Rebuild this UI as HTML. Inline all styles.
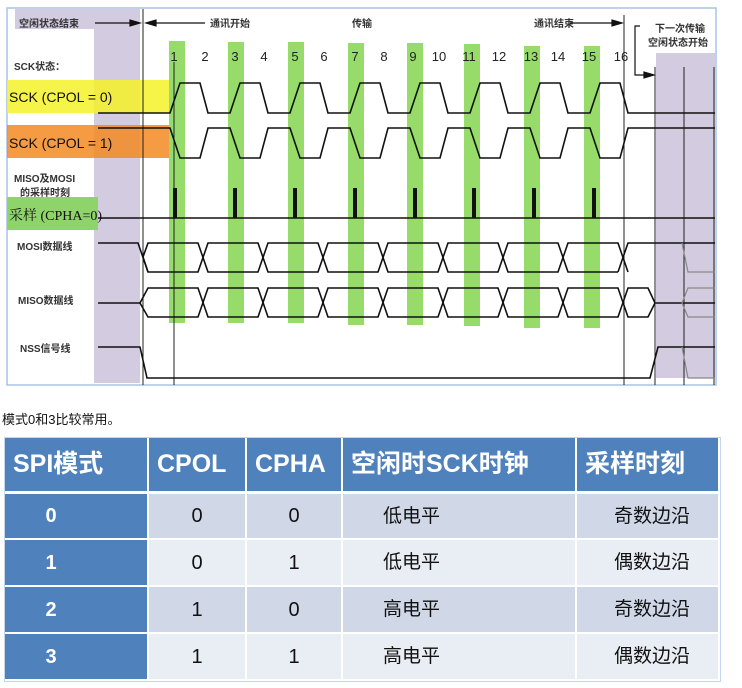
<!DOCTYPE html>
<html><head><meta charset="utf-8"><style>
body{margin:0;width:742px;height:688px;background:#fff;position:relative;overflow:hidden;font-family:"Liberation Sans","Noto Sans CJK SC",sans-serif}
.c{position:absolute;display:flex;align-items:center;box-sizing:border-box;line-height:1}
.h{background:#4f81bd;color:#fff;font-weight:bold;font-size:25px;padding-left:8px}
.a{background:#d0d8e8}.b{background:#e9edf4}
.n{background:#4f81bd;color:#fff;font-weight:bold;font-size:20px;justify-content:center;padding-right:50px}
.v{font-size:20px;justify-content:center;color:#111}
.t{font-size:19px;color:#111}
</style></head><body>
<svg width="742" height="390" style="position:absolute;left:0;top:0" font-family="Liberation Sans,Noto Sans CJK SC,sans-serif">
<rect x="7" y="8" width="709" height="377" fill="#fff" stroke="#a9c4e6" stroke-width="1.5"/>
<rect x="94" y="9" width="46" height="374" fill="#d3cbe0"/>
<rect x="15" y="9" width="79" height="20" fill="#d3cbe0"/>
<rect x="656" y="53" width="59" height="325" fill="#d3cbe0"/>
<rect x="7" y="80" width="163" height="33" fill="#f5f228" opacity="0.85"/>
<rect x="7" y="125" width="163" height="33" fill="#f28a22" opacity="0.85"/>
<rect x="7" y="197" width="91" height="33" fill="#8fd46a"/>
<g fill="#97dc6a">
<rect x="169" y="41" width="16" height="282"/><rect x="228" y="42" width="16" height="281"/>
<rect x="288" y="42" width="16" height="281"/><rect x="348" y="43" width="16" height="282"/>
<rect x="407" y="43" width="16" height="282"/><rect x="464" y="44" width="16" height="282"/>
<rect x="524" y="46" width="16" height="282"/><rect x="584" y="46" width="16" height="282"/>
</g>
<g font-size="13" fill="#222" text-anchor="middle">
<text x="174" y="61">1</text><text x="205" y="61">2</text><text x="235" y="61">3</text><text x="264" y="61">4</text>
<text x="295" y="61">5</text><text x="324" y="61">6</text><text x="355" y="61">7</text><text x="384" y="61">8</text>
<text x="413" y="61">9</text><text x="439" y="61">10</text><text x="469" y="61">11</text><text x="499" y="61">12</text>
<text x="531" y="61">13</text><text x="558" y="61">14</text><text x="589" y="61">15</text><text x="621" y="61">16</text>
</g>
<g font-size="10" fill="#333" font-weight="bold">
<text x="19" y="27">空闲状态结束</text>
<text x="210" y="27">通讯开始</text>
<text x="352" y="27">传输</text>
<text x="534" y="27">通讯结束</text>
<text x="655" y="32">下一次传输</text>
<text x="648" y="46">空闲状态开始</text>
<text x="14" y="70">SCK状态：</text>
<text x="14" y="182">MISO及MOSI</text>
<text x="20" y="196">的采样时刻</text>
<text x="17" y="250">MOSI数据线</text>
<text x="18" y="304">MISO数据线</text>
<text x="20" y="352">NSS信号线</text>
</g>
<g font-size="14" fill="#111">
<text x="9" y="102">SCK (CPOL = 0)</text>
<text x="9" y="148">SCK (CPOL = 1)</text>
<text x="9" y="220" font-family="Liberation Serif,Noto Serif CJK SC,serif">采样 (CPHA=0)</text>
</g>
<g stroke="#111" stroke-width="1.2" fill="#111">
<line x1="95" y1="23" x2="132" y2="23"/><polygon points="140,23 130,20 130,26"/>
<line x1="152" y1="23" x2="205" y2="23"/><polygon points="146,23 156,20 156,26"/>
<line x1="570" y1="23" x2="614" y2="23"/><polygon points="622,23 612,20 612,26"/>
<polyline points="640,26 635,26 635,75 645,75" fill="none"/><polygon points="654,75 644,72 644,78"/>
</g>
<g stroke="#222" stroke-width="1" fill="none">
<line x1="143" y1="9" x2="143" y2="385"/>
<line x1="174" y1="62" x2="174" y2="385"/>
<line x1="624" y1="15" x2="624" y2="385"/>
<line x1="655" y1="67" x2="655" y2="385"/>
<line x1="684" y1="67" x2="684" y2="385"/>
<line x1="714" y1="67" x2="714" y2="385"/>
</g>
<g stroke="#111" stroke-width="1.6" fill="none">
<polyline points="98,113 170,113 180,83 200,83 208,113 230,113 240,83 260,83 268,113 290,113 300,83 320,83 328,113 350,113 360,83 380,83 388,113 410,113 420,83 440,83 448,113 470,113 480,83 500,83 508,113 530,113 540,83 560,83 568,113 590,113 600,83 620,83 628,113 715,113"/>
<polyline points="98,128 170,128 180,158 200,158 208,128 230,128 240,158 260,158 268,128 290,128 300,158 320,158 328,128 350,128 360,158 380,158 388,128 410,128 420,158 440,158 448,128 470,128 480,158 500,158 508,128 530,128 540,158 560,158 568,128 590,128 600,158 620,158 628,128 715,128"/>
<line x1="98" y1="218" x2="715" y2="218"/>
<polyline points="98,243 138,243 148,272"/>
<polyline points="618,272 628,243 715,243"/>
<path d="M143,257 L148,243 L198,243 L208,272 L258,272 L268,243 L318,243 L328,272 L378,272 L388,243 L438,243 L448,272 L498,272 L508,243 L558,243 L568,272 L618,272"/>
<path d="M143,257 L148,272 L198,272 L208,243 L258,243 L268,272 L318,272 L328,243 L378,243 L388,272 L438,272 L448,243 L498,243 L508,272 L558,272 L568,243 L618,243 L628,272"/>
<polyline points="98,303 140,303"/>
<path d="M140,303 L148,288 L198,288 L208,317 L258,317 L268,288 L318,288 L328,317 L378,317 L388,288 L438,288 L448,317 L498,317 L508,288 L558,288 L568,317 L618,317 L628,288 L648,288 L655,303 L715,303"/>
<path d="M140,303 L148,317 L198,317 L208,288 L258,288 L268,317 L318,317 L328,288 L378,288 L388,317 L438,317 L448,288 L498,288 L508,317 L558,317 L568,288 L618,288 L628,317 L648,317 L655,303"/>
<polyline points="98,347 140,347 147,378 650,378 658,347 715,347"/>
</g>
<g stroke="#888" stroke-width="1.2" fill="none">
<polyline points="682,243 688,272 715,272"/>
<polyline points="682,303 688,288 715,288"/>
<polyline points="682,303 688,317 715,317"/>
<polyline points="682,347 688,378 715,378"/>
</g>
<g fill="#111">
<rect x="173" y="188" width="4" height="30"/><rect x="233" y="188" width="4" height="30"/>
<rect x="293" y="188" width="4" height="30"/><rect x="353" y="188" width="4" height="30"/>
<rect x="413" y="188" width="4" height="30"/><rect x="472" y="188" width="4" height="30"/>
<rect x="532" y="188" width="4" height="30"/><rect x="592" y="188" width="4" height="30"/>
</g>
</svg>
<div style="position:absolute;left:2px;top:409px;font-size:13px;color:#111">模式0和3比较常用。</div>
<div style="position:absolute;left:4px;top:437px;width:715px;height:243px;background:#fff;border:1px solid #c6d6ee"></div>
<div class="c h" style="left:5px;top:438px;width:142px;height:53px">SPI模式</div>
<div class="c h" style="left:149px;top:438px;width:96px;height:53px">CPOL</div>
<div class="c h" style="left:247px;top:438px;width:94px;height:53px">CPHA</div>
<div class="c h" style="left:343px;top:438px;width:232px;height:53px">空闲时SCK时钟</div>
<div class="c h" style="left:577px;top:438px;width:141px;height:53px">采样时刻</div>

<div class="c n" style="left:5px;top:494px;width:142px;height:44px">0</div>
<div class="c v a" style="left:149px;top:494px;width:96px;height:44px">0</div>
<div class="c v a" style="left:247px;top:494px;width:94px;height:44px">0</div>
<div class="c t a" style="left:343px;top:494px;width:232px;height:44px;padding-left:40px">低电平</div>
<div class="c t a" style="left:577px;top:494px;width:141px;height:44px;padding-left:37px">奇数边沿</div>

<div class="c n" style="left:5px;top:540px;width:142px;height:45px">1</div>
<div class="c v b" style="left:149px;top:540px;width:96px;height:45px">0</div>
<div class="c v b" style="left:247px;top:540px;width:94px;height:45px">1</div>
<div class="c t b" style="left:343px;top:540px;width:232px;height:45px;padding-left:40px">低电平</div>
<div class="c t b" style="left:577px;top:540px;width:141px;height:45px;padding-left:37px">偶数边沿</div>

<div class="c n" style="left:5px;top:587px;width:142px;height:45px">2</div>
<div class="c v a" style="left:149px;top:587px;width:96px;height:45px">1</div>
<div class="c v a" style="left:247px;top:587px;width:94px;height:45px">0</div>
<div class="c t a" style="left:343px;top:587px;width:232px;height:45px;padding-left:40px">高电平</div>
<div class="c t a" style="left:577px;top:587px;width:141px;height:45px;padding-left:37px">奇数边沿</div>

<div class="c n" style="left:5px;top:634px;width:142px;height:45px">3</div>
<div class="c v b" style="left:149px;top:634px;width:96px;height:45px">1</div>
<div class="c v b" style="left:247px;top:634px;width:94px;height:45px">1</div>
<div class="c t b" style="left:343px;top:634px;width:232px;height:45px;padding-left:40px">高电平</div>
<div class="c t b" style="left:577px;top:634px;width:141px;height:45px;padding-left:37px">偶数边沿</div>
</body></html>
